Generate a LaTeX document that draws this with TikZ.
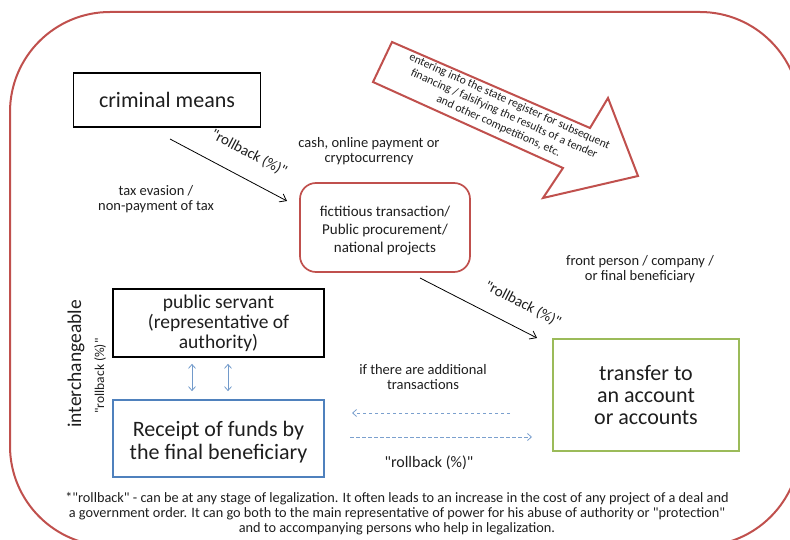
\documentclass[tikz,border=0pt]{standalone}
\usepackage{fontspec}
\setmainfont{Carlito}
\usetikzlibrary{arrows.meta}
\definecolor{frame}{HTML}{C0504D}
\definecolor{accgreen}{HTML}{9BBB59}
\definecolor{recblue}{HTML}{4F81BD}
\definecolor{ink}{HTML}{1E1E1E}
\newcommand\fsz[2]{\fontsize{#1}{#2}\selectfont}
\newcommand\qq{\textquotedbl}

\tikzset{
  lbl/.style={text=ink, inner sep=0pt, align=center},
  boxnode/.style={draw, line width=1.7pt, align=center, text=ink, inner sep=2pt},
  flow/.style={line width=0.8pt, -{Straight Barb[length=6pt,width=9pt]}},
  swap/.style={recblue!80, line width=0.8pt,
    {Straight Barb[length=4pt,width=7pt]}-{Straight Barb[length=4pt,width=7pt]}},
  dashflow/.style={recblue!75, line width=0.8pt, dash pattern=on 3.5pt off 2.5pt,
    -{Straight Barb[length=4pt,width=7pt]}},
}

\begin{document}
\begin{tikzpicture}[x=1pt,y=-1pt]
\useasboundingbox (0,0) rectangle (790,540);
\clip (0,0) rectangle (790,540);

% outer frame
\draw[frame, line width=2pt, rounded corners=100pt] (10,12) rectangle (800,546);

% main boxes
\node[boxnode, draw=black, minimum width=187pt, minimum height=54pt, font=\fsz{22}{26}] (crim) at (167,100)
  {criminal means};
\node[boxnode, draw=frame, rounded corners=16pt, minimum width=170pt, minimum height=89pt, font=\fsz{15}{18}] (fict) at (385,227.5)
  {\rule{0pt}{17pt}fictitious transaction/\\ Public procurement/\\ national projects};
\node[boxnode, draw=black, minimum width=211pt, minimum height=68pt, font=\fsz{19.5}{20}] (pub) at (218.5,323)
  {public servant\\ (representative of\\ authority)};
\node[boxnode, draw=recblue, minimum width=211pt, minimum height=77pt, font=\fsz{22}{23}] (rec) at (218.5,438.5)
  {\rule{0pt}{22pt}Receipt of funds by\\ the final beneficiary};
\node[boxnode, draw=accgreen, minimum width=186pt, minimum height=112pt, font=\fsz{22}{22}] (trans) at (646,395)
  {transfer to\\ an account\\ or accounts};

% broad arrow
\draw[frame, line width=2pt, line join=miter, fill=white]
  (392,42) -- (590,128) -- (608,98) -- (638,176) -- (543,198) -- (563,168) -- (373,82) -- cycle;
\node[lbl, rotate=-24.2, font=\fsz{11.7}{13.5}] (reg) at (504,114)
  {entering into the state register for subsequent\\
   financing / falsifying the results of a tender\\
   and other competitions, etc.};

% flow arrows
\coordinate (f1a) at (170,139);
\coordinate (f1b) at (287,201);
\draw[flow] (f1a) -- (f1b);
\node[lbl, rotate=-27.5, font=\fsz{15}{18}] (rb1) at (249,153) {\qq rollback (\%)\qq};

\coordinate (f2a) at (420,278);
\coordinate (f2b) at (537,338);
\draw[flow] (f2a) -- (f2b);
\node[lbl, rotate=-27, font=\fsz{15}{18}] (rb2) at (523,304) {\qq rollback (\%)\qq};

% side labels
\node[lbl, font=\fsz{14.5}{15}] (pay) at (369,151) {cash, online payment or\\ cryptocurrency};
\node[lbl, font=\fsz{14.5}{15}] (tax) at (156,199) {tax evasion /\\ non-payment of tax};
\node[lbl, font=\fsz{14.5}{15}] (front) at (640,269) {front person / company /\\ or final beneficiary};

% public servant <-> beneficiary
\draw[swap] ([xshift=-26.5pt,yshift=-6pt]pub.south) -- ([xshift=-26.5pt,yshift=8pt]rec.north);
\draw[swap] ([xshift=9.5pt,yshift=-6pt]pub.south) -- ([xshift=9.5pt,yshift=8pt]rec.north);
\node[lbl, rotate=90, font=\fsz{19.5}{20}] (inter) at (76,364) {interchangeable};
\node[lbl, rotate=90, font=\fsz{13.5}{15}] (rb3) at (100,376) {\qq rollback (\%)\qq};

% additional transactions
\node[lbl, font=\fsz{14.5}{15}] (addt) at (423,377) {if there are additional\\ transactions};
\coordinate (d1a) at (510,413);
\coordinate (d1b) at (352,413);
\coordinate (d2a) at (350,437);
\coordinate (d2b) at (532,437);
\draw[dashflow] (d1a) -- (d1b);
\draw[dashflow] (d2a) -- (d2b);
\node[lbl, font=\fsz{16}{18}] (rb4) at (429,463) {\qq rollback (\%)\qq};

% footnote
\node[lbl, font=\fsz{14.3}{15}] (note) at (397,514)
  {*\qq rollback\qq{} - can be at any stage of legalization. It often leads to an increase in the cost of any project of a deal and\\
   a government order. It can go both to the main representative of power for his abuse of authority or \qq protection\qq\\
   and to accompanying persons who help in legalization.};
\end{tikzpicture}
\end{document}
